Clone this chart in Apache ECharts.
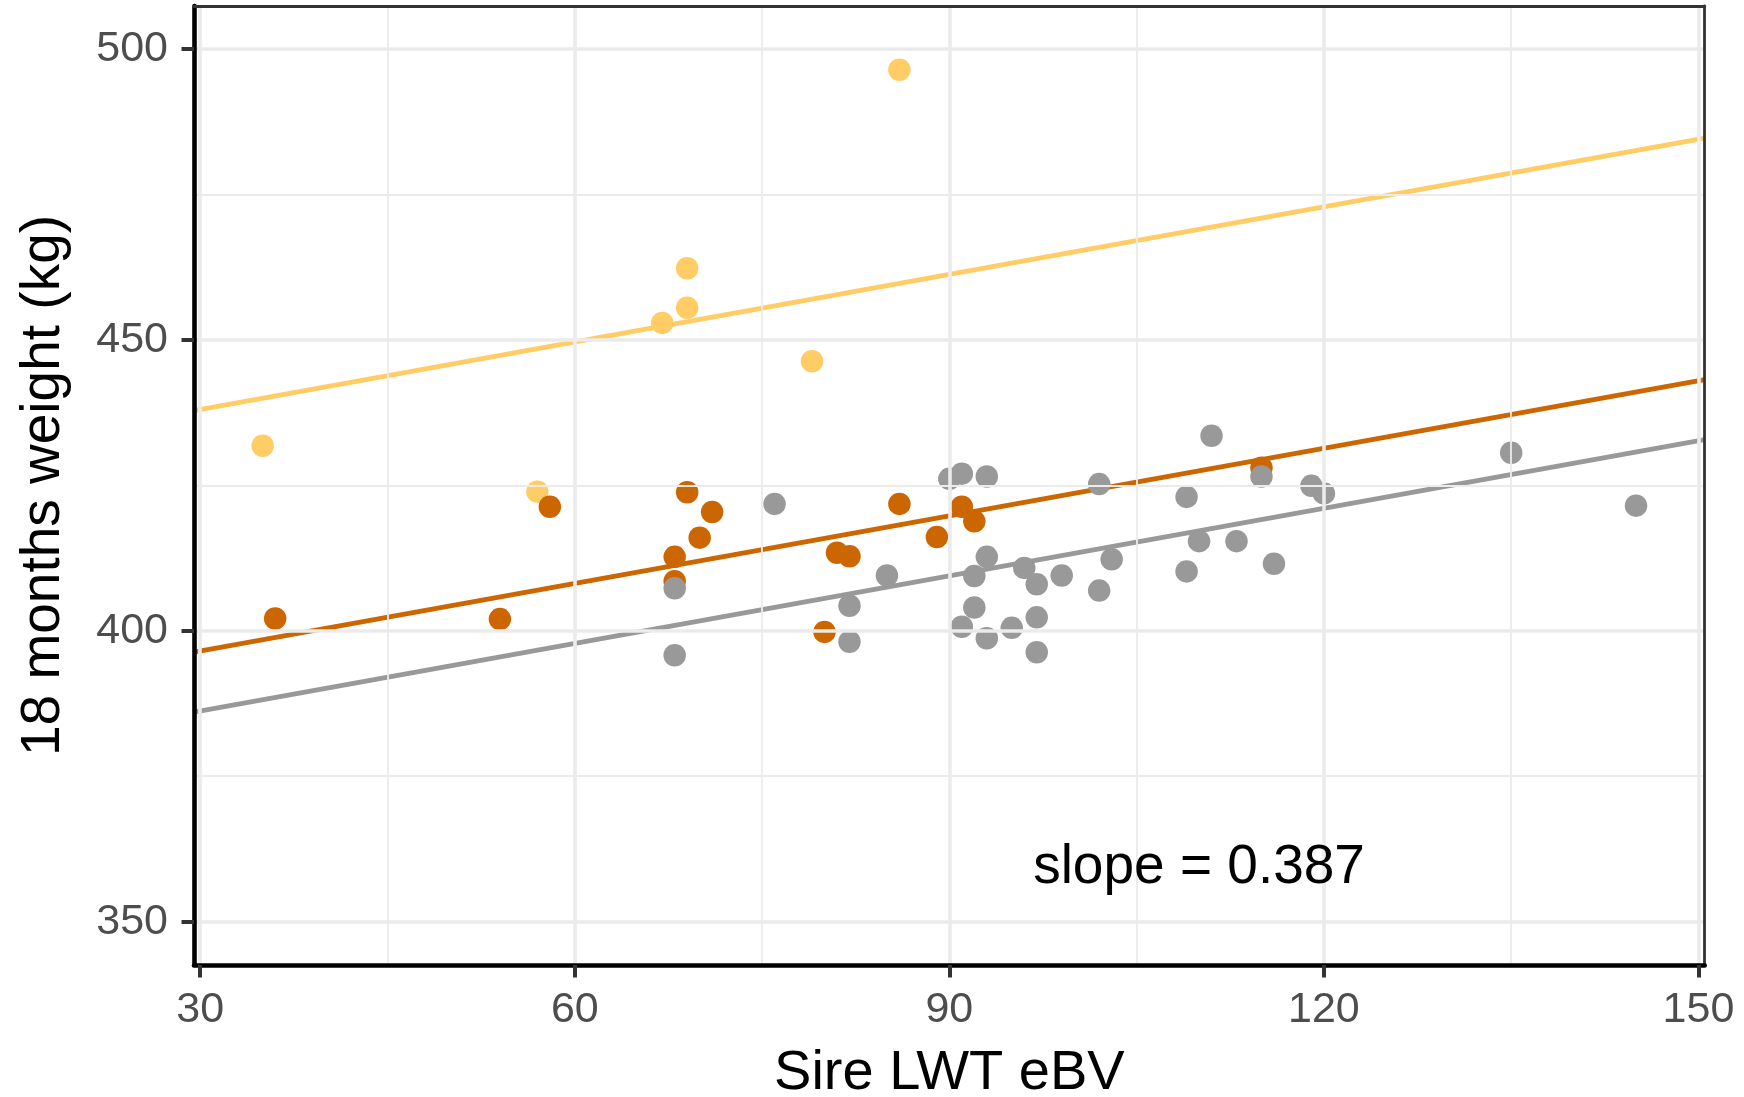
<!DOCTYPE html>
<html>
<head>
<meta charset="utf-8">
<title>Sire LWT eBV vs 18 months weight</title>
<script src="https://cdn.jsdelivr.net/npm/echarts@6.0.0/dist/echarts.min.js"></script>
<style>
  html, body { margin: 0; padding: 0; background: #fff; }
  #chart { width: 1744px; height: 1097px; }
</style>
</head>
<body>
<div id="chart"></div>
<script>
// points: [Sire LWT eBV, 18 months weight]
const yellowPts = [
  [35, 431.8], [57, 423.9], [67, 452.9], [69, 462.3], [69, 455.5], [79, 446.3], [86, 496.4]
]
const orangePts = [
  [36, 402.1], [54, 402.0], [58, 421.3], [68, 412.7], [68, 408.5], [69, 423.8], [70, 416.0],
  [71, 420.4], [80, 399.8], [81, 413.4], [82, 412.8], [86, 421.8], [89, 416.1], [91, 421.3],
  [92, 418.8], [115, 428.0]
]
const greyPts = [
  [68, 407.3], [68, 395.8], [76, 421.8], [82, 404.3], [82, 398.1], [85, 409.5], [90, 426.1],
  [91, 427.0], [91, 400.7], [92, 409.4], [92, 404.0], [93, 426.5], [93, 412.7], [93, 398.7],
  [95, 400.5], [96, 410.8], [97, 408.0], [97, 402.3], [97, 396.3], [99, 409.5], [102, 425.2],
  [102, 406.9], [103, 412.3], [109, 423.0], [109, 410.2], [110, 415.4], [111, 433.5],
  [113, 415.4], [115, 426.5], [116, 411.5], [119, 424.9], [120, 423.6], [135, 430.6], [145, 421.5]
]

// fitted lines share one slope, one intercept per group (yellow, orange, grey)
const slope = 0.387
const intercepts = [426.4, 384.9, 374.6]
const groupColors = ['#FFCC66', '#CC6600', '#999999']

const xTicks = [30, 60, 90, 120, 150]
const xMinor = [45, 75, 105, 135]
const yTicks = [350, 400, 450, 500]
const yMinor = [375, 425, 475]

// where the slope note sits, in data units
const notePos = [110, 359.3]

const xMin = 29.5
const xMax = 150.5
const yMin = 342.56
const yMax = 507.36

const fontFamily = "'Liberation Sans', Arial, sans-serif"

const chart = echarts.init(document.getElementById('chart'))

// panel grid lines as mark lines on an empty helper series
const gridLines = []
xTicks.forEach(v => gridLines.push({ xAxis: v, lineStyle: { width: 3.6 } }))
xMinor.forEach(v => gridLines.push({ xAxis: v, lineStyle: { width: 1.8 } }))
yTicks.forEach(v => gridLines.push({ yAxis: v, lineStyle: { width: 3.6 } }))
yMinor.forEach(v => gridLines.push({ yAxis: v, lineStyle: { width: 1.8 } }))

const fitSeries = intercepts.map((a, i) => {
  return {
    type: 'line',
    z: 2,
    symbol: 'none',
    silent: true,
    data: [[xMin, a + slope * xMin], [xMax, a + slope * xMax]],
    lineStyle: { color: groupColors[i], width: 4.8 }
  }
})

const pointSeries = [yellowPts, orangePts, greyPts].map((pts, i) => {
  return {
    type: 'scatter',
    z: 3,
    symbolSize: 22.5,
    data: pts,
    itemStyle: { color: groupColors[i], opacity: 1 }
  }
})

const option = {
  animation: false,
  backgroundColor: '#fff',
  textStyle: { fontFamily: fontFamily },
  grid: { left: 194, right: 39.3, top: 6, bottom: 132, containLabel: false, outerBoundsMode: 'none' },
  xAxis: [
    {
      type: 'value',
      min: xMin,
      max: xMax,
      z: 5,
      name: 'Sire LWT eBV',
      nameLocation: 'middle',
      nameGap: 81,
      nameTextStyle: { color: '#000', fontSize: 56, fontFamily: fontFamily },
      axisLine: { show: true, onZero: false, lineStyle: { color: '#000', width: 4.6 } },
      axisTick: { show: true, customValues: xTicks, length: 12.5, lineStyle: { color: '#333', width: 4 } },
      axisLabel: { customValues: xTicks, margin: 24, color: '#4D4D4D', fontSize: 43, fontFamily: fontFamily },
      splitLine: { show: false }
    },
    {
      type: 'value',
      position: 'top',
      min: xMin,
      max: xMax,
      z: 5,
      axisLine: { show: true, onZero: false, lineStyle: { color: '#333', width: 2.8 } },
      axisTick: { show: false },
      axisLabel: { show: false },
      splitLine: { show: false }
    }
  ],
  yAxis: [
    {
      type: 'value',
      min: yMin,
      max: yMax,
      z: 5,
      name: '18 months weight (kg)',
      nameLocation: 'middle',
      nameGap: 123,
      nameTextStyle: { color: '#000', fontSize: 55, fontFamily: fontFamily },
      axisLine: { show: true, onZero: false, lineStyle: { color: '#000', width: 4.6 } },
      axisTick: { show: true, customValues: yTicks, length: 12.5, lineStyle: { color: '#333', width: 4 } },
      axisLabel: { customValues: yTicks, margin: 26, color: '#4D4D4D', fontSize: 43, fontFamily: fontFamily },
      splitLine: { show: false }
    },
    {
      type: 'value',
      position: 'right',
      min: yMin,
      max: yMax,
      z: 5,
      axisLine: { show: true, onZero: false, lineStyle: { color: '#333', width: 2.8 } },
      axisTick: { show: false },
      axisLabel: { show: false },
      splitLine: { show: false }
    }
  ],
  series: [
    {
      type: 'scatter',
      z: 1,
      silent: true,
      symbolSize: 0,
      data: [[xMin, yMin]],
      markLine: {
        silent: true,
        symbol: ['none', 'none'],
        label: { show: false },
        lineStyle: { color: '#EBEBEB', type: 'solid' },
        data: gridLines
      }
    },
    ...fitSeries,
    ...pointSeries
  ]
}

chart.setOption(option)

// slope note, placed through the axes
const notePx = chart.convertToPixel({ gridIndex: 0 }, notePos)
chart.setOption({
  graphic: [{
    type: 'text',
    x: notePx[0],
    y: notePx[1],
    z: 10,
    silent: true,
    style: {
      text: 'slope = ' + slope,
      fill: '#000',
      font: '55px ' + fontFamily,
      align: 'center',
      verticalAlign: 'middle'
    }
  }]
})
</script>
</body>
</html>
